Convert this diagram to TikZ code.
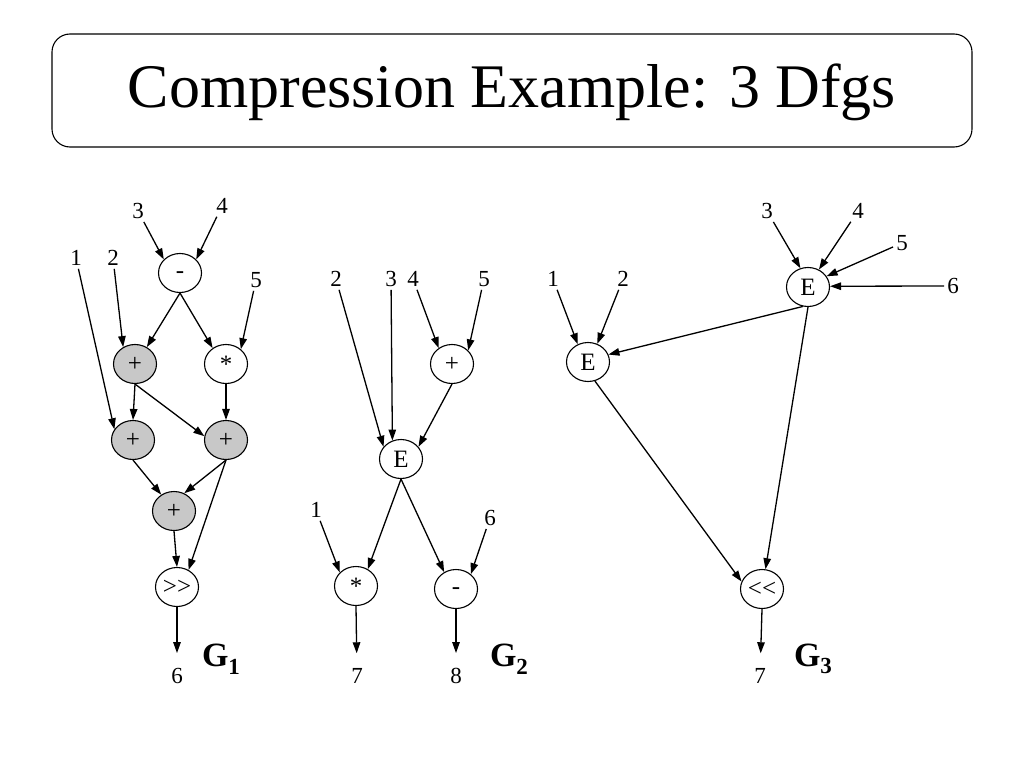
\documentclass[tikz,border=0pt]{standalone}
\usepackage{fontspec}
\setmainfont{Liberation Serif}
\usetikzlibrary{arrows.meta,shapes.geometric}
\definecolor{gr}{RGB}{200,200,200}
\newcommand{\gtgt}{\mbox{>}\mbox{>}}
\newcommand{\ltlt}{\mbox{<}\mbox{<}}
\begin{document}
\begin{tikzpicture}[x=1pt,y=-1pt,
 op/.style={ellipse,draw,line width=1.1pt,minimum width=43pt,minimum height=39pt,inner sep=0pt,font=\fontsize{25}{25}\selectfont,fill=white},
 opg/.style={op,fill=gr},
 minus/.style={text height=11.2pt,text depth=0pt},
 lab/.style={inner sep=3pt,font=\fontsize{23}{23}\selectfont},
 ar/.style={line width=1.3pt,-{Triangle[length=11pt,width=7.5pt]}},
 outar/.style={ar,shorten >=12pt},
 gl/.style={inner sep=0pt,font=\fontsize{34}{34}\selectfont\bfseries},
 titlebox/.style={draw,line width=1.1pt,rounded corners=18pt,minimum width=920pt,minimum height=113pt},
 titletext/.style={font=\fontsize{62}{62}\selectfont}
]
\useasboundingbox (0,0) rectangle (1024,768);
% title
\node[titlebox] (tb) at (512,90.5) {};
\node[titletext] (tt) at (512,92) {Compression Example: 3 Dfgs};

% ---------- G1 ----------
\node[op,minus] (m1) at (180,273) {-};
\node[opg] (a1) at (135,364) {+};
\node[op]  (s1) at (226,364) {*};
\node[opg] (a2) at (133,440) {+};
\node[opg] (a3) at (226,440) {+};
\node[opg] (a4) at (174,511) {+};
\node[op]  (r1) at (177,587) {\gtgt};
\node[lab] (i3) at (138,211) {3};
\node[lab] (i4) at (222,206) {4};
\node[lab] (i1) at (76,258) {1};
\node[lab] (i2) at (113,258) {2};
\node[lab] (i5) at (256,280) {5};
\node[lab] (o6) at (177,676) {6};
\node[gl]  (g1) at (221,659) {G\raisebox{-0.22em}{\fontsize{23}{23}\selectfont 1}};

\draw[ar] (i3) -- (m1.140);
\draw[ar] (i4) -- (m1.40);
\draw[ar] (i1) -- (a2.150);
\draw[ar] (i2) -- (a1.125);
\draw[ar] (i5) -- (s1.45);
\draw[ar] (m1.south) -- (a1.55);
\draw[ar] (m1.south) -- (s1.130);
\draw[ar] (a1.south) -- (a2.north);
\draw[ar] (a1.south) -- (a3.170);
\draw[ar] (s1.south) -- (a3.north);
\draw[ar] (a2.south) -- (a4.128);
\draw[ar] (a3.south) -- (a4.60);
\draw[ar] (a3.south) -- (r1.56);
\draw[ar] (a4.south) -- (r1.north);
\draw[outar] (r1.south) -- (o6);

% ---------- G2 ----------
\node[op] (p2) at (452,364) {+};
\node[op] (e2) at (401,459) {E};
\node[op] (s2) at (356,586) {*};
\node[op,minus] (d2) at (456,589) {-};
\node[lab] (j2) at (336,279) {2};
\node[lab] (j3) at (391,279) {3};
\node[lab] (j4) at (413,279) {4};
\node[lab] (j5) at (484,279) {5};
\node[lab] (j1) at (316,510) {1};
\node[lab] (j6) at (490,518) {6};
\node[lab] (o7) at (357,676) {7};
\node[lab] (o8) at (456,676) {8};
\node[gl]  (g2) at (509,659) {G\raisebox{-0.22em}{\fontsize{23}{23}\selectfont 2}};

\draw[ar] (j2) -- (e2.145);
\draw[ar] (j3) -- (e2.115);
\draw[ar] (j4) -- (p2.130);
\draw[ar] (j5) -- (p2.40);
\draw[ar] (p2.south) -- (e2.35);
\draw[ar] (e2.south) -- (s2.55);
\draw[ar] (e2.south) -- (d2.125);
\draw[ar] (j1) -- (s2.140);
\draw[ar] (j6) -- (d2.45);
\draw[outar] (s2.south) -- (o7);
\draw[outar] (d2.south) -- (o8);

% ---------- G3 ----------
\node[op] (t3) at (808,287) {E};
\node[op] (l3) at (588,362) {E};
\node[op] (u3) at (762,589) {\ltlt};
\node[lab] (k3) at (767,211) {3};
\node[lab] (k4) at (858,211) {4};
\node[lab] (k5) at (902,243) {5};
\node[lab] (k6) at (953,286) {6};
\node[lab] (k1) at (553,279) {1};
\node[lab] (k2) at (623,279) {2};
\node[lab] (o7b) at (760,676) {7};
\node[gl]  (g3) at (813,659) {G\raisebox{-0.22em}{\fontsize{23}{23}\selectfont 3}};

\draw[ar] (k3) -- (t3.112);
\draw[ar] (k4) -- (t3.58);
\draw[ar] (k5) -- (t3.30);
\draw[ar] (k6) -- (t3.2);
\draw[ar] (t3.255) -- (l3.20);
\draw[ar] (k1) -- (l3.120);
\draw[ar] (k2) -- (l3.63);
\draw[ar] (t3.south) -- (u3.80);
\draw[ar] (l3.290) -- (u3.160);
\draw[outar] (u3.south) -- (o7b);
\end{tikzpicture}
\end{document}
